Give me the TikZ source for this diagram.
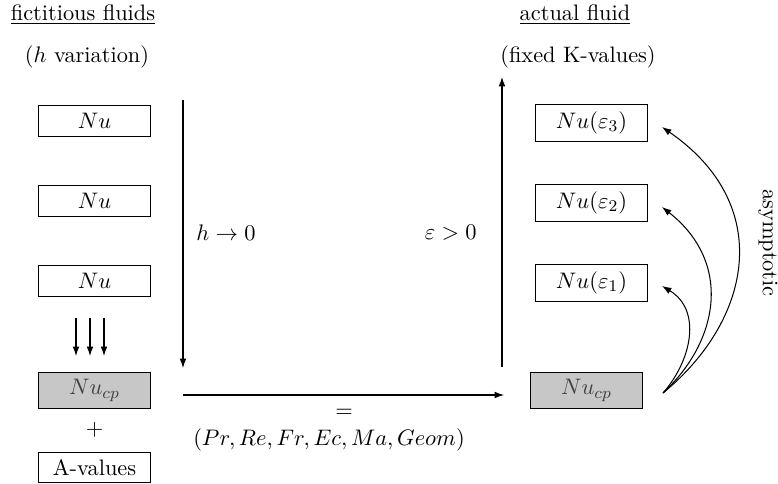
\documentclass[tikz,border=0pt]{standalone}
\usetikzlibrary{arrows.meta}
\begin{document}
\begin{tikzpicture}[x=0.4878pt,y=-0.4878pt,
  every node/.style={font=\fontsize{10.9}{13}\selectfont},
  box/.style={draw,line width=0.5pt,minimum width=55pt,minimum height=15.5pt,inner sep=0pt},
  rbox/.style={box,minimum height=18.5pt},
  gbox/.style={box,fill=black!22,minimum height=18pt,text=black!75},
  arr/.style={-{Latex[length=4.6pt,width=3.3pt]},line width=0.5pt},
  lbl/.style={inner sep=0pt}]
\useasboundingbox (0,0) rectangle (778,484);
% headings
\node[lbl] (hl) at (83,15) {\underline{fictitious fluids}};
\node[lbl] (hl2) at (87,57) {($h$ variation)};
\node[lbl] (hr) at (575,15) {\underline{actual fluid}};
\node[lbl] (hr2) at (578,57) {(fixed K-values)};
% left column
\node[box] (l3) at (94.5,121) {$Nu$};
\node[box] (l2) at (94.5,201) {$Nu$};
\node[box] (l1) at (94.5,281) {$Nu$};
\node[gbox] (lcp) at (94.5,390.5) {$Nu_{cp}$};
\node[lbl] (plus) at (94.5,430) {$+$};
\node[box,minimum height=15pt] (av) at (94.5,467.5) {A-values};
\foreach \xx/\nm in {76/a,90/b,104/c}{
  \coordinate (s\nm) at (\xx,318);
  \coordinate (e\nm) at (\xx,356);
  \draw[arr] (s\nm) -- (e\nm);
}
% right column
\node[rbox] (r3) at (591.5,123) {$Nu(\varepsilon_3)$};
\node[rbox] (r2) at (591.5,203) {$Nu(\varepsilon_2)$};
\node[rbox] (r1) at (591.5,283) {$Nu(\varepsilon_1)$};
\node[gbox] (rcp) at (586.5,390.5) {$Nu_{cp}$};
% vertical arrows
\coordinate (dtop) at (183,100);
\coordinate (dbot) at (183,368);
\draw[arr] (dtop) -- (dbot);
\node[lbl,anchor=west] (hlab) at (196,233) {$h\rightarrow 0$};
\coordinate (ubot) at (502,367);
\coordinate (utop) at (502,77);
\draw[arr] (ubot) -- (utop);
\node[lbl,anchor=east] (elab) at (477,233) {$\varepsilon>0$};
% horizontal arrow
\coordinate (hs) at (183,395);
\coordinate (he) at (504,395);
\draw[arr] (hs) -- (he);
\node[lbl] (eq) at (344,413) {$=$};
\node[lbl] (params) at (329,440) {$(Pr,Re,Fr,Ec,Ma,Geom)$};
% asymptotic curves
\coordinate (cs) at (663,393);
\coordinate (c1) at (662,286);
\coordinate (c2) at (662,207);
\coordinate (c3) at (662,127);
\draw[arr] (cs) .. controls (692,360) and (702,310) .. (c1);
\draw[arr] (cs) .. controls (720,340) and (732,262) .. (c2);
\draw[arr] (cs) .. controls (752,320) and (775,205) .. (c3);
\node[lbl,rotate=-90] (asy) at (768,243) {asymptotic};
\end{tikzpicture}
\end{document}
